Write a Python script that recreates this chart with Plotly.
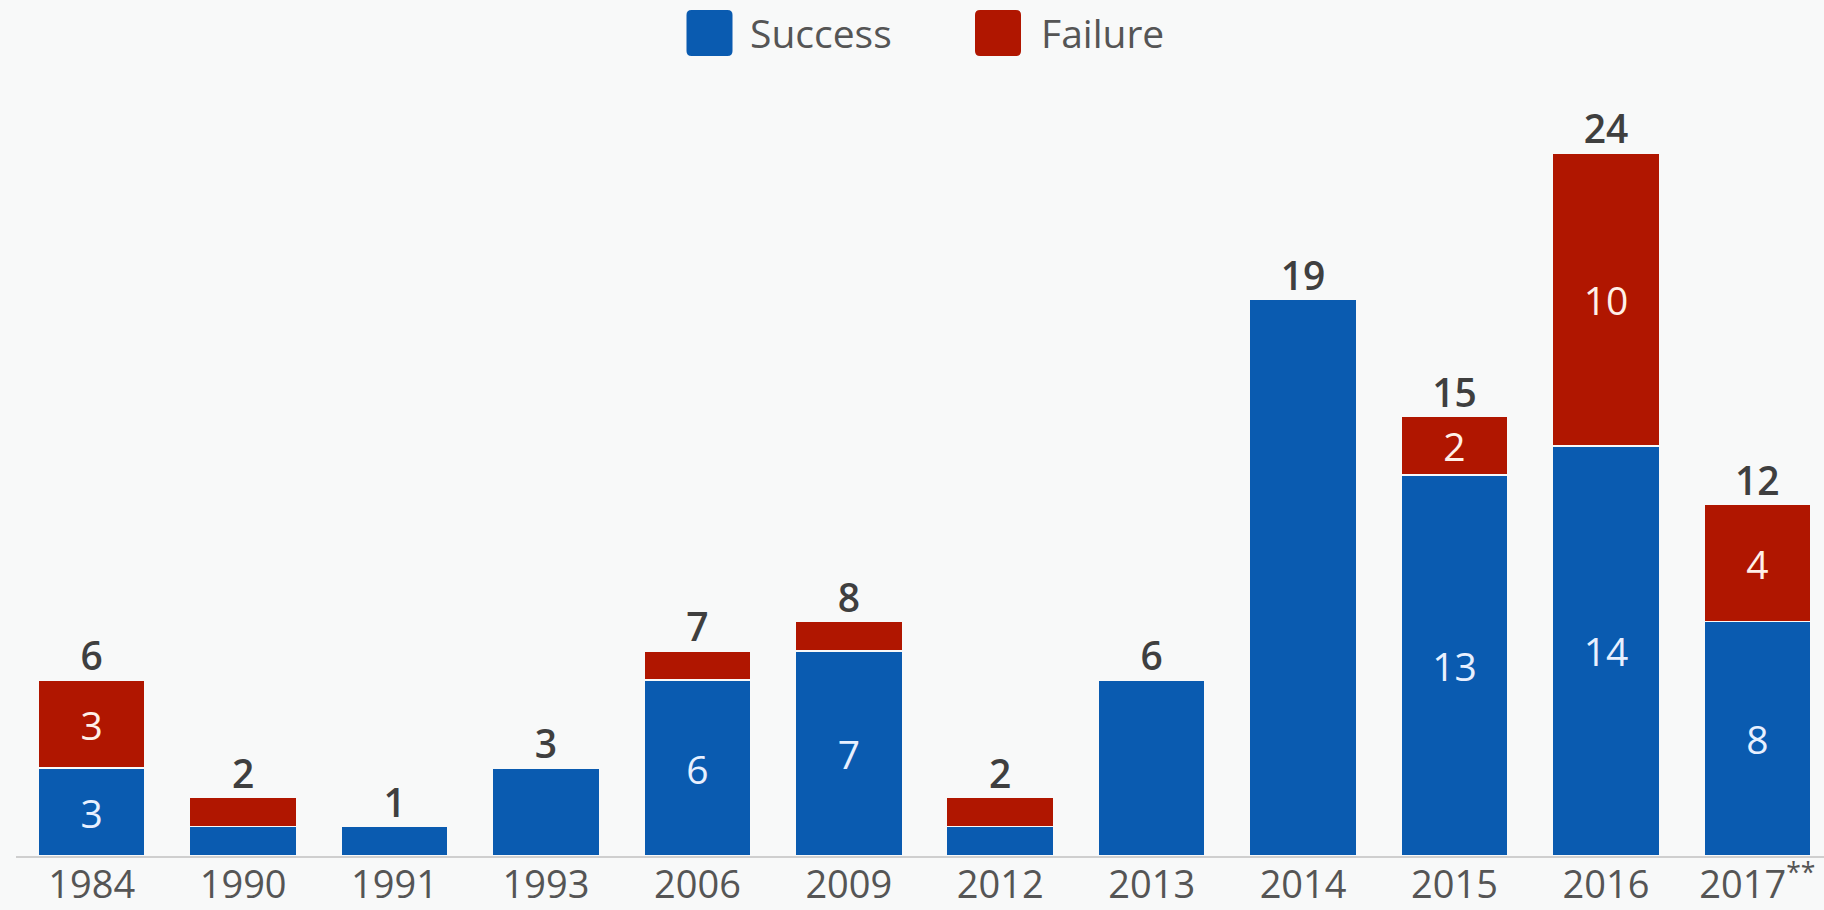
import plotly.graph_objects as go

years = ["1984", "1990", "1991", "1993", "2006", "2009", "2012", "2013", "2014", "2015", "2016", "2017**"]
success = [3, 1, 1, 3, 6, 7, 1, 6, 19, 13, 14, 8]
failure = [3, 1, 0, 0, 1, 1, 1, 0, 0, 2, 10, 4]

BLUE = "#0a5bb0"
RED = "#b01600"
BG = "#f8f9f9"
FONT = "Open Sans"
FS = 39

totals = [s + f for s, f in zip(success, failure)]
succ_text = [str(s) if (f > 0 and s >= 2) else "" for s, f in zip(success, failure)]
fail_text = [str(f) if f >= 2 else "" for f in failure]
tick_text = [y.replace("**", "<sup>**</sup>") for y in years]

fig = go.Figure()
fig.add_trace(go.Bar(
    x=years, y=success, name="Success", marker=dict(color=BLUE, line=dict(color=BG, width=1.5)),
    text=succ_text, textposition="inside", insidetextanchor="middle", textangle=0,
    textfont=dict(family=FONT, size=FS, color="#e8f0ff"), showlegend=False, hoverinfo="skip",
))
fig.add_trace(go.Bar(
    x=years, y=failure, name="Failure", marker=dict(color=RED, line=dict(color=BG, width=1.5)),
    text=fail_text, textposition="inside", insidetextanchor="middle", textangle=0,
    textfont=dict(family=FONT, size=FS, color="#fff0e8"), showlegend=False, hoverinfo="skip",
))
fig.add_trace(go.Scatter(
    x=years, y=totals, mode="text", text=[str(t) for t in totals], textposition="top center",
    textfont=dict(family=FONT, size=FS, color="#3f3f3f", weight=600), showlegend=False, hoverinfo="skip",
))

W, H = 1824, 910
ML, MR, MT, MB = 16, 0, 0, 54
pw, ph = W - ML - MR, H - MT - MB

def px_x(p):
    return (p - ML) / pw

def px_y(p):
    return (H - MB - p) / ph

r, h = 5, 23
sq = (f"M{-h+r},{-h} L{h-r},{-h} Q{h},{-h} {h},{-h+r} L{h},{h-r} Q{h},{h} {h-r},{h} "
      f"L{-h+r},{h} Q{-h},{h} {-h},{h-r} L{-h},{-h+r} Q{-h},{-h} {-h+r},{-h} Z")
legend_items = [("Success", BLUE, 709.5, 748), ("Failure", RED, 998, 1039)]
shapes, annotations = [], []
for name, col, cx, tx in legend_items:
    shapes.append(dict(type="path", xref="paper", yref="paper", xsizemode="pixel", ysizemode="pixel",
                       xanchor=px_x(cx), yanchor=px_y(33), path=sq, fillcolor=col, line=dict(width=0)))
    annotations.append(dict(text=name, xref="paper", yref="paper", x=px_x(tx), y=px_y(33),
                            xanchor="left", yanchor="middle", showarrow=False,
                            font=dict(family=FONT, size=39, color="#555555")))

fig.update_layout(
    width=W, height=H, barmode="stack", bargap=0.293,
    paper_bgcolor=BG, plot_bgcolor=BG,
    margin=dict(l=ML, r=MR, t=MT, b=MB, autoexpand=False),
    font=dict(family=FONT),
    uniformtext=dict(minsize=FS, mode="show"),
    shapes=shapes, annotations=annotations,
    xaxis=dict(type="category", range=[-0.5, 11.44], showline=True, linecolor="#cfcfcf", linewidth=2,
               showgrid=False, ticks="", tickvals=years, ticktext=tick_text, automargin=False,
               ticklabelstandoff=-6,
               tickfont=dict(family=FONT, size=38, color="#555555"), fixedrange=True),
    yaxis=dict(range=[0, 856 / 29.3], visible=False, showgrid=False, fixedrange=True, automargin=False),
)

fig.write_html("out.html")
